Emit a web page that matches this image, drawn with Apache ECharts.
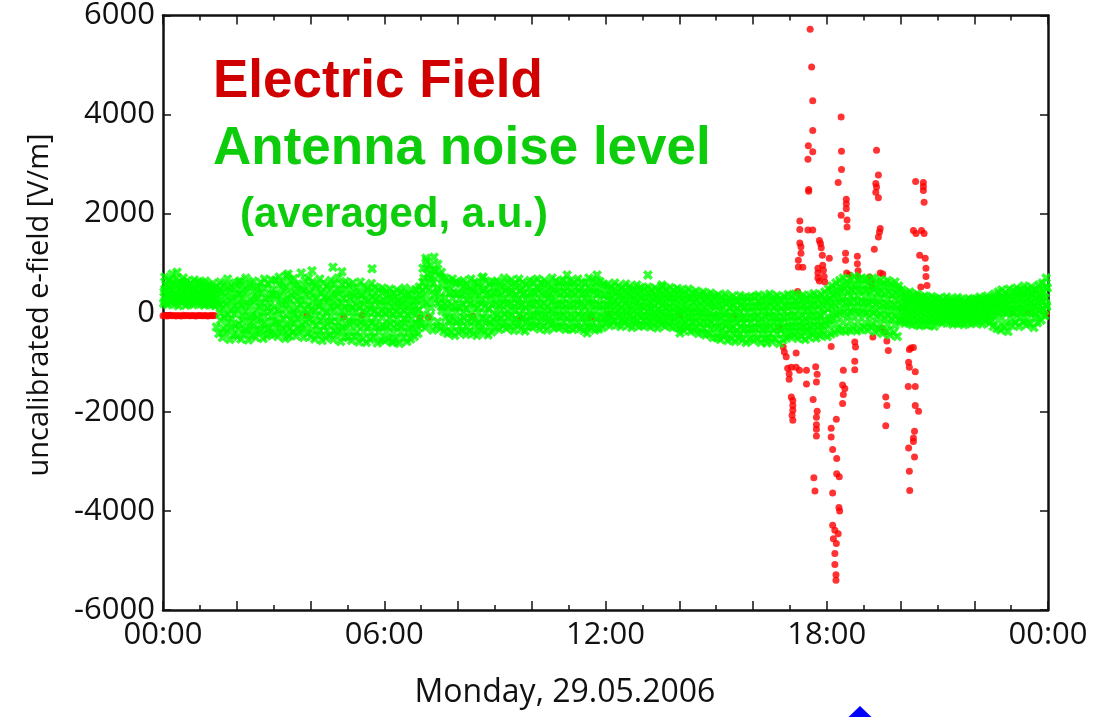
<!DOCTYPE html>
<html><head><meta charset="utf-8">
<script src="https://cdn.jsdelivr.net/npm/echarts@6/dist/echarts.min.js"></script>
<style>html,body{margin:0;padding:0;background:#fff}#c{width:1099px;height:717px}</style>
</head><body><div id="c"></div>
<script>
// ---- axis ticks / labels ----
const xLabelHours = [0, 6, 12, 18, 24];
const xLabelTexts = ['00:00', '06:00', '12:00', '18:00', '00:00'];
const yTickValues = [-6000, -4000, -2000, 0, 2000, 4000, 6000];

// ---- antenna noise level (green), 5 layers sampled every 0.1 h ----
const noiseStepHours = 0.1;
const noiseA = [
 720,650,780,690,610,700,640,580,660,620, 600,640,560,590,520,620,560,680,540,600,
 620,560,700,580,640,520,610,680,590,650, 660,720,600,750,640,690,580,800,650,700,
 620,560,680,600,540,650,590,700,570,630, 560,600,500,620,540,480,590,520,460,500,
 430,480,400,460,420,500,380,450,470,520, 900,1050,950,1120,980,820,700,640,680,620,
 600,650,560,680,620,580,700,640,590,620, 640,580,700,620,660,590,680,610,570,650,
 620,680,600,650,580,700,640,610,660,590, 640,600,680,620,590,700,650,610,630,580,
 560,520,600,540,500,580,530,490,560,510, 480,520,460,500,440,530,470,510,450,490,
 460,420,480,400,440,380,420,360,400,340, 360,320,380,300,340,280,350,310,290,330,
 320,360,300,340,380,310,350,290,330,370, 340,380,320,360,300,350,390,330,370,420,
 480,540,600,650,700,620,680,730,660,700, 680,640,700,620,660,600,650,580,620,540,
 460,400,420,360,380,320,340,300,330,280, 300,260,320,280,250,310,270,240,290,260,
 280,320,260,340,300,380,420,460,400,480, 440,500,460,540,480,520,460,560,600,700];
const noiseB = [
 560,520,600,540,490,570,530,470,510,560, 480,510,450,470,420,400,350,420,300,380,
 380,300,420,260,350,310,400,280,330,370, 400,350,450,300,380,420,330,460,370,410,
 350,300,400,320,280,370,330,410,290,360, 300,340,260,350,280,240,320,270,230,260,
 220,260,180,240,200,270,160,230,250,290, 700,780,720,850,760,560,450,400,420,380,
 380,420,340,440,400,360,450,390,350,410, 420,380,450,400,430,360,440,390,350,410,
 400,450,380,420,360,460,410,390,430,370, 410,380,440,400,370,450,420,380,400,360,
 360,330,390,350,310,380,340,300,370,320, 300,330,280,320,260,340,290,310,270,300,
 260,230,280,210,250,190,230,170,210,150, 160,120,180,100,140,80,150,110,90,130,
 120,160,100,140,170,110,150,90,130,160, 140,170,120,160,100,150,180,130,170,220,
 300,350,400,440,480,420,460,500,440,470, 450,420,470,400,440,380,420,360,400,330,
 300,260,270,230,250,200,220,190,210,170, 180,150,200,160,130,190,150,120,170,140,
 160,190,140,210,170,250,280,310,270,330, 300,340,310,370,320,360,300,380,420,500];
const noiseC = [
 420,380,450,400,360,430,390,350,410,380, 360,390,330,350,300,150,100,180,50,120,
 80,150,20,120,-40,60,130,10,90,40, 120,50,180,80,150,20,100,170,60,130,
 90,40,140,60,10,110,70,150,30,100, 60,100,20,110,40,0,80,30,-20,40,
 0,40,-40,20,-20,50,-50,10,30,60, 450,520,480,600,500,300,180,120,150,100,
 120,160,80,180,140,100,190,130,90,150, 180,140,210,160,190,120,200,150,110,170,
 170,210,140,180,120,220,160,150,190,130, 170,140,200,160,130,210,180,140,160,120,
 160,130,190,150,110,180,140,100,170,120, 110,140,90,130,70,150,100,120,80,110,
 60,30,80,10,50,-10,30,-30,10,-50, -60,-100,-40,-120,-80,-140,-70,-110,-130,-90,
 -100,-60,-120,-80,-50,-110,-70,-130,-90,-60, -80,-50,-100,-60,-120,-70,-40,-90,-50,0,
 80,120,160,200,240,180,220,260,200,230, 210,180,230,160,200,140,180,120,160,100,
 140,110,120,80,100,60,80,50,70,40, 60,30,80,40,10,70,30,0,50,20,
 40,70,20,80,50,120,140,160,130,170, 150,180,160,200,170,190,150,210,240,300];
const noiseD = [
 300,270,330,280,250,310,260,240,290,260, 250,270,220,240,190,-150,-80,-200,-120,-260,
 -220,-150,-300,-180,-260,-120,-240,-200,-310,-160, -180,-220,-120,-260,-150,-200,-100,-240,-170,-130,
 -200,-250,-150,-280,-220,-170,-260,-190,-300,-230, -220,-180,-260,-200,-240,-280,-210,-250,-300,-260,
 -260,-220,-300,-240,-280,-200,-320,-250,-230,-210, 150,200,100,250,180,40,-100,-150,-120,-180,
 -150,-100,-180,-120,-160,-200,-110,-140,-190,-130, -60,-100,-30,-80,-50,-120,-40,-90,-130,-70,
 -60,-20,-100,-50,-120,-10,-80,-70,-40,-110, -70,-100,-40,-80,-110,-30,-60,-120,-90,-100,
 -40,-70,-10,-50,-90,-20,-60,-100,-30,-80, -80,-50,-100,-60,-120,-40,-90,-70,-110,-80,
 -140,-170,-120,-190,-160,-210,-180,-230,-200,-260, -280,-320,-260,-340,-300,-360,-290,-330,-350,-310,
 -320,-280,-340,-300,-270,-330,-290,-350,-310,-280, -290,-260,-310,-270,-330,-280,-250,-300,-260,-220,
 -150,-100,-60,-20,10,-40,0,30,-30,10, -20,-60,0,-80,-40,-100,-60,-120,-80,-140,
 -20,-50,-40,-80,-60,-100,-80,-110,-90,-120, -60,-90,-40,-80,-110,-50,-90,-120,-70,-100,
 -80,-50,-100,-40,-70,-20,-10,10,-20,20, 0,30,-10,40,10,20,-20,50,70,120];
const noiseE = [
 190,160,220,170,140,200,150,180,160,210, 170,150,190,160,140,-420,-500,-380,-540,-450,
 -480,-530,-420,-550,-460,-500,-390,-520,-470,-430, -430,-480,-380,-520,-450,-400,-470,-360,-500,-420,
 -480,-530,-440,-560,-500,-460,-540,-420,-580,-490, -500,-560,-470,-590,-520,-600,-540,-490,-610,-550,
 -560,-520,-600,-540,-620,-500,-580,-530,-480,-420, -250,-300,-200,-350,-280,-320,-380,-420,-400,-460,
 -400,-360,-440,-380,-420,-460,-350,-410,-450,-390, -300,-340,-260,-320,-280,-360,-250,-330,-370,-290,
 -290,-250,-330,-280,-350,-240,-310,-300,-270,-340, -310,-340,-280,-320,-360,-270,-300,-350,-330,-300,
 -220,-260,-190,-240,-280,-200,-250,-300,-230,-270, -260,-230,-290,-250,-310,-220,-270,-240,-300,-280,
 -320,-360,-300,-380,-350,-420,-390,-450,-430,-500, -500,-540,-480,-560,-520,-580,-510,-550,-600,-530,
 -560,-520,-600,-540,-500,-580,-530,-620,-550,-510, -480,-450,-520,-470,-540,-490,-440,-510,-460,-430,
 -480,-430,-400,-360,-340,-380,-350,-320,-370,-340, -300,-350,-280,-380,-330,-420,-370,-450,-400,-480,
 -180,-210,-200,-240,-220,-260,-230,-250,-240,-270, -180,-210,-160,-200,-230,-170,-210,-240,-190,-220,
 -200,-170,-230,-160,-200,-280,-320,-350,-300,-380, -250,-200,-280,-180,-240,-220,-300,-200,-150,-60];

// ---- extra in-between noise layers, sampled every 0.2 h ----
const noiseFillStepHours = 0.2;
const noiseF = [
 640,570,620,590,610, 540,500,470,510,480, 450,510,460,500,470, 560,510,550,500,540,
 500,450,490,460,480, 430,390,420,400,410, 360,320,350,330,380, 900,860,700,560,590,
 530,490,520,480,510, 540,500,530,490,520, 500,540,510,530,510, 530,500,520,490,540,
 460,420,450,430,440, 410,370,400,380,390, 340,300,330,290,300, 240,210,230,220,230,
 220,250,230,240,230, 240,270,250,260,280, 460,520,560,550,580, 550,520,540,500,470,
 330,290,300,270,280, 230,210,220,200,230, 260,280,300,330,340, 410,440,430,460,530];
const noiseG = [
 480,450,470,460,460, 420,390,260,230,240, 230,180,220,190,200, 270,230,260,240,250,
 220,190,230,200,200, 180,150,170,150,160, 130,100,140,110,120, 620,660,420,300,290,
 280,250,270,250,270, 300,270,290,280,280, 300,270,300,280,290, 290,270,290,280,280,
 260,230,250,240,250, 220,190,210,200,210, 140,100,120,100,120, 40,0,20,10,10,
 10,40,20,30,20, 30,60,40,50,60, 230,290,320,340,330, 310,280,300,270,260,
 180,150,160,140,150, 110,90,100,90,100, 130,150,160,180,190, 250,270,270,290,320];
const noiseH = [
 350,320,340,330,340, 300,280,-10,-40,-20, -60,-90,-70,-80,-70, -20,-50,-30,-40,-30,
 -60,-90,-70,-80,-80, -90,-110,-100,-100,-100, -110,-130,-120,-120,-110, 330,360,120,0,20,
 10,-20,0,-10,-10, 60,30,50,40,40, 60,40,50,50,50, 50,30,40,40,40,
 60,30,50,40,40, 30,0,20,10,10, -60,-90,-80,-100,-110, -190,-220,-200,-210,-200,
 -180,-210,-190,-200,-200, -160,-190,-170,-180,-150, 0,60,100,110,100, 70,40,60,40,20,
 20,0,10,-10,0, -10,-30,-20,-30,-20, 0,20,40,50,60, 90,100,110,130,160];
const noiseI = [
 230,220,240,220,230, 210,190,-290,-330,-310, -330,-360,-340,-350,-340, -300,-320,-310,-320,-300,
 -350,-370,-360,-370,-360, -380,-400,-390,-400,-390, -380,-410,-390,-400,-370, -40,-60,-180,-270,-280,
 -270,-290,-280,-280,-270, -180,-200,-190,-200,-190, -170,-190,-180,-190,-180, -190,-210,-200,-200,-190,
 -140,-160,-150,-160,-150, -160,-180,-170,-180,-170, -240,-270,-290,-310,-330, -410,-440,-420,-430,-420,
 -420,-440,-430,-430,-420, -380,-390,-370,-380,-360, -260,-220,-190,-170,-180, -200,-220,-230,-240,-250,
 -140,-160,-150,-160,-150, -130,-150,-140,-150,-140, -150,-130,-160,-150,-190, -130,-100,-110,-90,-30];

const noiseOutliers = [[0.38,820],[2.09,640],[3.39,780],[3.39,-480],[4.04,850],[4.61,920],[4.85,830],
 [5.67,890],[6.24,-580],[7.13,1100],[8.68,720],[10.96,760],[11.77,760],[11.5,-410],[13.15,760],
 [13.53,560],[14.02,-410],[16.38,-610],[21.53,-200]];

// ---- electric field (red) ----
const efieldStartStep = 0.05;
const efieldStartValues = [-60,-55,-65,-60,-50,-62,-58,-66,-55,-60,-64,-52,-60,-57,-63,-59,-55,-61,-66,-58,-54,-60,-62,-57,-65,-59,-53,-61,-58];
const efieldPoints = [
 [3.9,-50],[4.9,-80],[5.4,-50],[6.97,-100],[7.2,-90],[8.4,-70],[9.7,-100],[11.6,-90],[12.07,-30],[14.0,-50],[15.5,-60],
 [22.3,-30],[23.05,0],[23.45,10],[23.95,-20],
 [17.55,5720],[17.59,4960],[17.62,4280],[17.62,3680],[17.50,3370],[17.62,3250],[17.49,3100],[17.51,2490],[17.51,2450],
 [17.27,1850],[17.27,1680],[17.49,1670],[17.62,1670],[17.27,1410],[17.30,1330],[17.30,1200],[17.23,1060],[17.23,925],[17.35,920],[17.21,430],
 [17.80,1460],[17.83,1400],[17.85,1310],[17.88,1160],[18.07,1100],[17.76,900],[17.76,800],[17.76,700],[17.80,640],[17.89,960],[17.91,860],[17.93,730],[17.95,620],
 [18.39,3950],[18.40,3260],[18.40,2890],[18.31,2630],[18.53,2290],[18.53,2200],[18.53,2100],[18.39,1970],[18.55,1870],[18.55,1730],[18.51,1200],[18.51,1060],[18.54,800],[18.61,760],
 [18.83,1140],[18.83,990],[18.85,850],[18.85,720],
 [19.35,3280],[19.40,2780],[19.33,2610],[19.35,2540],[19.33,2430],[19.40,2320],[19.45,1700],[19.43,1630],[19.40,1530],[19.29,1280],[19.45,800],[19.52,780],[19.16,720],[19.20,620],[19.23,520],
 [20.41,2650],[20.62,2630],[20.62,2550],[20.62,2470],[20.64,2230],[20.35,1660],[20.42,1600],[20.57,1660],[20.64,1600],[20.52,1160],[20.67,1100],[20.69,900],[20.69,730],[20.72,550],[20.55,520],[20.46,350],
 [16.70,-290],[16.82,-690],[16.85,-790],[16.90,-890],[17.17,-810],[16.94,-1120],[16.98,-1230],[16.98,-1340],[17.04,-1100],[17.17,-1100],[17.26,-1160],
 [17.04,-1700],[17.08,-1770],[17.08,-1870],[17.08,-1970],[17.06,-2070],[17.08,-2170],[17.45,-1160],[17.45,-1440],[17.70,-1090],[17.74,-1240],[17.72,-1400],
 [17.63,-1750],[17.74,-1990],[17.72,-2110],[17.72,-2260],[17.72,-2350],[17.72,-2490],[17.65,-3330],[17.68,-3600],
 [18.12,-680],[18.12,-2330],[18.12,-2510],[18.16,-2760],[18.27,-2940],[18.27,-3250],[18.34,-3310],[18.26,-2150],[18.45,-1160],[18.43,-1460],[18.49,-1530],[18.45,-1650],[18.43,-1830],
 [18.16,-3640],[18.33,-3930],[18.35,-4000],[18.16,-4290],[18.22,-4390],[18.31,-4460],[18.18,-4560],[18.26,-4660],[18.22,-4860],[18.22,-5080],[18.25,-5290],[18.25,-5400],
 [18.76,-590],[18.78,-690],[18.76,-980],[18.76,-1150],[19.25,-490],[19.50,-310],[19.58,-390],[19.63,-570],[19.67,-760],[19.60,-1700],[19.63,-1870],[19.60,-2280],
 [20.24,-740],[20.28,-710],[20.35,-700],[20.22,-1000],[20.24,-1100],[20.21,-1490],[20.40,-1190],[20.40,-1490],[20.40,-1870],[20.49,-1990],
 [20.38,-2390],[20.35,-2530],[20.35,-2600],[20.22,-2730],[20.24,-3200],[20.25,-3590],[20.38,-2910]];

// ---- build series data ----
const noiseData = [];
const layerOffsets = [0, 0.03, -0.02, 0.015, -0.035];
[noiseA, noiseB, noiseC, noiseD, noiseE].forEach((arr, k) => {
  arr.forEach((v, i) => noiseData.push([0.05 + i * noiseStepHours + layerOffsets[k], v]));
});
const fillOffsets = [0.1, 0.0, 0.1, 0.0];
[noiseF, noiseG, noiseH, noiseI].forEach((arr, k) => {
  arr.forEach((v, i) => noiseData.push([0.05 + fillOffsets[k] + i * noiseFillStepHours, v]));
});
noiseOutliers.forEach(p => noiseData.push(p));
const efieldData = efieldStartValues.map((v, i) => [i * efieldStartStep, v]).concat(efieldPoints);

const crossPath = 'path://M0,2.5 L2.5,0 L5,2.5 L7.5,0 L10,2.5 L7.5,5 L10,7.5 L7.5,10 L5,7.5 L2.5,10 L0,7.5 L2.5,5 Z';
const axisColor = '#111';
const xLabel = v => { const i = xLabelHours.indexOf(v); return i >= 0 ? xLabelTexts[i] : ''; };

const baseX = {
  type: 'value', min: 0, max: 24, interval: 2,
  axisLine: { show: true, onZero: false, lineStyle: { color: axisColor, width: 2.5 } },
  axisTick: { show: true, inside: true, length: 9, lineStyle: { color: axisColor, width: 1.5 } },
  minorTick: { show: true, splitNumber: 2, length: 5, lineStyle: { color: axisColor, width: 1.5 } },
  splitLine: { show: false }, minorSplitLine: { show: false }
};
const baseY = {
  type: 'value', min: yTickValues[0], max: yTickValues[yTickValues.length - 1], interval: 2000,
  axisLine: { show: true, onZero: false, lineStyle: { color: axisColor, width: 2.5 } },
  axisTick: { show: true, inside: true, length: 8, lineStyle: { color: axisColor, width: 1.5 } },
  splitLine: { show: false }
};

const chart = echarts.init(document.getElementById('c'), null, { renderer: 'canvas' });
chart.setOption({
  animation: false,
  backgroundColor: '#fff',
  grid: { left: 163, right: 51, top: 15, bottom: 107 },
  xAxis: [
    Object.assign({}, baseX, { position: 'bottom',
      axisLabel: { formatter: xLabel, fontFamily: 'Open Sans', fontSize: 31, color: axisColor, margin: 10, showMinLabel: true, showMaxLabel: true } }),
    Object.assign({}, baseX, { position: 'top', axisLabel: { show: false } })
  ],
  yAxis: [
    Object.assign({}, baseY, { position: 'left',
      axisLabel: { formatter: v => String(v), fontFamily: 'Open Sans', fontSize: 31, color: axisColor, margin: 8 } }),
    Object.assign({}, baseY, { position: 'right', axisLabel: { show: false } })
  ],
  series: [
    { name: 'Electric Field', type: 'scatter', data: efieldData, symbol: 'circle', symbolSize: 7,
      itemStyle: { color: '#ff0000' }, z: 2, clip: true },
    { name: 'Antenna noise level', type: 'scatter', data: noiseData, symbol: crossPath, symbolSize: 10,
      itemStyle: { color: '#00ff00' }, z: 3, clip: true, large: false }
  ],
  graphic: [
    { type: 'text', x: 213, y: 82, z: 10, style: { text: 'Electric Field', fill: '#d10000',
      font: 'bold 53px "Liberation Sans", Arial, sans-serif', align: 'left', verticalAlign: 'middle' } },
    { type: 'text', x: 213, y: 149, z: 10, style: { text: 'Antenna noise level', fill: '#0ccc0c',
      font: 'bold 53px "Liberation Sans", Arial, sans-serif', align: 'left', verticalAlign: 'middle' } },
    { type: 'text', x: 240, y: 215, z: 10, style: { text: '(averaged, a.u.)', fill: '#0ccc0c',
      font: 'bold 42px "Liberation Sans", Arial, sans-serif', align: 'left', verticalAlign: 'middle' } },
    { type: 'text', x: 565, y: 693, style: { text: 'Monday, 29.05.2006', fill: axisColor,
      font: '32px "Open Sans", sans-serif', align: 'center', verticalAlign: 'middle' } },
    { type: 'text', x: 40, y: 305, rotation: Math.PI / 2, style: { text: 'uncalibrated e-field [V/m]', fill: axisColor,
      font: '29px "Open Sans", sans-serif', align: 'center', verticalAlign: 'middle' } },
    { type: 'polygon', shape: { points: [[835, 730], [860, 706], [885, 730]] }, style: { fill: '#0000ff' } }
  ]
});
</script></body></html>
